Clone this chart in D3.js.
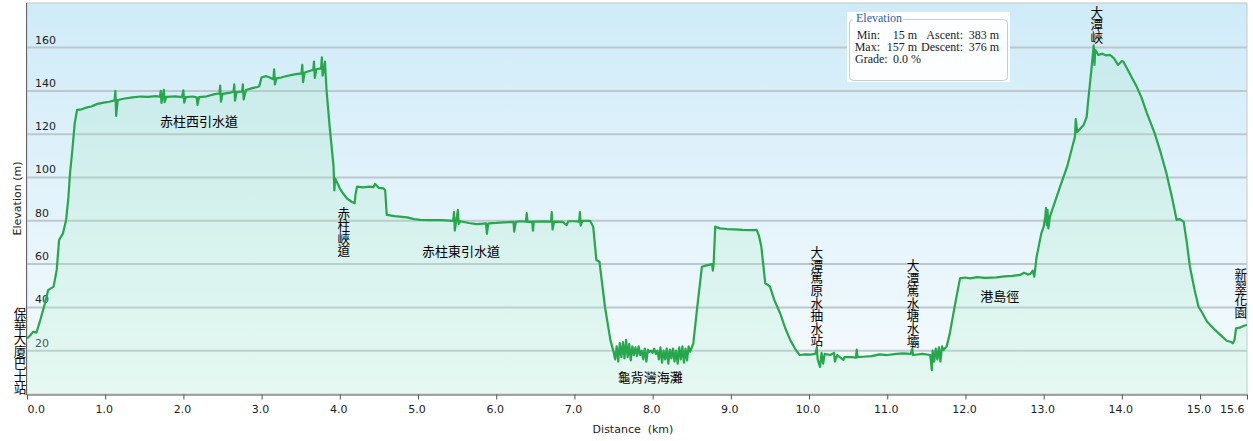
<!DOCTYPE html>
<html>
<head>
<meta charset="utf-8">
<script src="https://cdn.jsdelivr.net/npm/d3@7"></script>
<style>
  body { margin: 0; background: #fff; }
  svg text { font-family: "DejaVu Sans", Verdana, sans-serif; }
  .cjk { font-family: "Noto Sans CJK TC", "Noto Sans CJK SC", sans-serif; font-size: 13px; fill: #000; }
  .cjk-v { font-family: "Noto Sans CJK TC", "Noto Sans CJK SC", sans-serif; font-size: 12.6px; fill: #000; writing-mode: vertical-rl; }
  .stat { font-family: "Liberation Serif", "DejaVu Serif", serif; font-size: 12px; fill: #222; }
</style>
</head>
<body>
<script>
//-----------------Data (distance km, elevation m)----------------

const startClimb = [[0, 25.7], [0.04, 27], [0.08, 28.8], [0.12, 28.3], [0.17, 34.2], [0.23, 41.9], [0.27, 48], [0.34, 49.6], [0.38, 57.3], [0.41, 71.1], [0.46, 74.2], [0.5, 80.4], [0.53, 91.1], [0.55, 101.9], [0.58, 112.7], [0.61, 125], [0.64, 131.2]];

const westCatchwater = [[0.7, 131.5], [0.76, 132.3], [0.82, 132.8], [0.9, 134], [0.98, 134.6], [1.05, 135], [1.12, 135.6], [1.13, 140], [1.14, 128.5], [1.16, 135.8], [1.25, 136.5], [1.35, 137], [1.45, 137.4], [1.55, 137.2], [1.65, 137.6], [1.7, 137.3], [1.71, 140], [1.72, 134.5], [1.75, 140.5], [1.76, 134.8], [1.78, 137.2], [1.9, 137.5], [1.98, 137.1], [2.0, 140.3], [2.01, 134.6], [2.03, 137.1], [2.12, 137.4], [2.17, 137], [2.18, 133.5], [2.2, 137.1], [2.3, 137.5], [2.4, 138.5], [2.46, 138.8], [2.47, 142.5], [2.48, 135], [2.5, 138.6], [2.6, 139.2], [2.64, 139.6], [2.65, 143], [2.66, 135.5], [2.68, 139.5], [2.75, 139.7], [2.76, 143], [2.77, 136], [2.8, 140.4], [2.88, 141.3], [2.95, 141.8], [2.97, 142.2], [3.0, 146.3], [3.06, 146.8], [3.09, 146.4], [3.15, 145.4], [3.16, 150], [3.17, 143], [3.19, 145.8], [3.25, 146.2], [3.32, 146.9], [3.42, 147.6], [3.51, 148.1], [3.52, 152], [3.53, 144], [3.55, 148.5], [3.62, 149.3], [3.66, 149.7], [3.67, 153.5], [3.68, 146], [3.7, 150], [3.76, 150.4], [3.77, 155.5], [3.78, 147], [3.8, 150.2], [3.81, 153.5], [3.83, 140.4], [3.87, 123.5], [3.92, 105], [3.93, 94], [3.94, 99.6]];

const gapRoad = [[4.0, 95], [4.04, 92.7], [4.09, 90.4], [4.15, 88.8], [4.19, 88.1], [4.2, 92], [4.22, 95.8], [4.3, 95.4], [4.38, 95.8], [4.43, 95.5], [4.45, 97], [4.5, 95.2], [4.56, 95], [4.58, 94], [4.6, 82.7]];

const eastCatchwater = [[4.7, 82.2], [4.86, 81.6], [4.95, 80.8], [5.03, 80.4], [5.15, 80.3], [5.3, 80.3], [5.45, 80], [5.46, 84], [5.47, 75.5], [5.49, 80.2], [5.51, 85], [5.52, 78.5], [5.54, 79.8], [5.65, 79], [5.75, 78.5], [5.87, 78.8], [5.88, 74], [5.9, 78.8], [6.0, 79], [6.1, 79.3], [6.22, 79.5], [6.23, 75], [6.25, 79.5], [6.3, 79.8], [6.38, 79.6], [6.39, 83.5], [6.4, 79.5], [6.46, 79.6], [6.47, 75.5], [6.48, 79.6], [6.6, 79.7], [6.7, 79.6], [6.71, 84], [6.72, 76], [6.74, 79.6], [6.85, 79.5], [6.9, 78], [6.92, 79.8], [7.0, 79.8], [7.06, 79.6], [7.07, 84], [7.08, 77.8], [7.1, 80], [7.2, 80], [7.24, 77.3], [7.28, 61.9], [7.32, 61.1], [7.39, 40.3], [7.46, 24.9], [7.5, 19.5]];

const turtleCove = [[7.52, 16], [7.54, 22], [7.56, 15], [7.58, 23.5], [7.6, 17], [7.62, 24], [7.64, 16.5], [7.66, 25], [7.68, 17], [7.7, 23], [7.72, 15.5], [7.74, 22], [7.76, 18], [7.78, 21.5], [7.8, 17.5], [7.82, 22], [7.84, 18], [7.86, 20], [7.88, 16], [7.9, 21], [7.92, 15], [7.94, 20.5], [7.96, 19.5], [7.98, 20], [8.0, 19], [8.02, 21], [8.04, 18.5], [8.06, 20], [8.08, 16], [8.1, 21.5], [8.12, 14.5], [8.14, 20], [8.16, 16], [8.18, 21], [8.2, 14], [8.22, 20.5], [8.24, 16.5], [8.26, 21], [8.28, 15], [8.3, 20], [8.32, 14], [8.34, 21.5], [8.36, 16], [8.38, 22], [8.4, 14.5], [8.42, 21], [8.44, 15.5], [8.46, 22], [8.48, 19.5]];

const midHill = [[8.52, 23.4], [8.57, 40], [8.63, 58.8], [8.7, 59.5], [8.76, 60], [8.77, 57], [8.78, 60], [8.8, 77.3], [8.86, 76.5], [8.95, 76.2], [9.05, 76], [9.15, 75.8], [9.25, 75.7], [9.33, 75.8], [9.36, 73], [9.39, 68], [9.44, 51.1], [9.47, 50.5], [9.5, 49.6], [9.56, 43], [9.63, 37.3], [9.7, 30], [9.76, 24.9], [9.82, 21], [9.88, 18]];

const reservoirRoad = [[9.95, 18.3], [10.02, 18.2], [10.08, 18.6], [10.1, 21.5], [10.11, 16], [10.14, 12.5], [10.16, 19], [10.18, 14], [10.2, 18.5], [10.27, 18], [10.32, 19], [10.33, 15], [10.36, 18], [10.44, 15.7], [10.45, 17], [10.55, 17], [10.6, 16.8], [10.61, 20.5], [10.62, 17], [10.69, 17.2], [10.8, 17.5], [10.9, 18.3], [11.0, 18], [11.12, 18.5], [11.2, 18.8], [11.3, 18.5], [11.32, 21], [11.33, 18], [11.45, 18.5], [11.55, 18], [11.57, 11], [11.58, 20], [11.6, 15], [11.62, 21], [11.64, 16], [11.66, 21.5], [11.68, 15], [11.7, 22], [11.72, 20.3], [11.76, 22], [11.8, 28], [11.86, 40], [11.93, 53.4]];

const hkTrail = [[12.0, 53.8], [12.06, 53.4], [12.15, 54], [12.25, 53.6], [12.4, 53.9], [12.5, 54.3], [12.6, 54.6], [12.7, 55], [12.75, 56], [12.8, 55.2], [12.83, 55.5], [12.86, 57], [12.88, 54.2], [12.91, 63.4], [12.97, 74.2], [13.0, 77.3], [13.02, 81.9], [13.03, 86], [13.04, 78], [13.05, 85], [13.06, 76.5], [13.08, 81.9]];

const gapClimb = [[13.21, 95.8], [13.3, 105], [13.4, 118.8], [13.41, 127], [13.43, 121], [13.51, 124.2], [13.55, 128], [13.57, 135.8], [13.61, 149.7], [13.64, 161], [13.65, 152], [13.66, 159], [13.7, 156.6], [13.75, 157.2], [13.8, 156.4], [13.85, 156.6], [13.9, 155], [13.95, 152], [14.0, 153.8], [14.02, 153.5], [14.1, 148], [14.19, 141.9], [14.25, 137], [14.32, 129.7], [14.42, 120.4], [14.5, 111], [14.57, 101.9], [14.64, 91], [14.7, 80.4], [14.74, 80.8], [14.79, 79.6], [14.83, 70], [14.87, 58.8], [14.93, 48], [14.98, 40.3], [15.02, 38], [15.09, 33.4], [15.18, 30], [15.26, 27.3], [15.34, 24.6], [15.4, 24], [15.42, 23.4], [15.44, 25], [15.46, 30.3], [15.52, 30.8], [15.56, 31.5], [15.6, 31.9]];

const profile = [].concat(startClimb, westCatchwater, gapRoad, eastCatchwater, turtleCove, midHill, reservoirRoad, hkTrail, gapClimb);

const xTicks = [0, 1, 2, 3, 4, 5, 6, 7, 8, 9, 10, 11, 12, 13, 14, 15, 15.6];
const yTicks = [20, 40, 60, 80, 100, 120, 140, 160];

// place names: [text, km, m, vertical?]
const placeNames = [
  ["保華大廈巴士站", -0.09, -0.4, true],
  ["赤柱西引水道", 2.2, 123.3, false],
  ["赤柱峽道", 4.05, 63.3, true],
  ["赤柱東引水道", 5.55, 63.4, false],
  ["龜背灣海灘", 7.97, 4.9, false],
  ["大潭篤原水抽水站", 10.1, 21.7, true],
  ["大潭篤水塘水壩", 11.33, 21.7, true],
  ["港島徑", 12.44, 42.6, false],
  ["大潭峽", 13.68, 162, true],
  ["新翠花園", 15.52, 35, true]
];

const statRows = [
  ["Min:", "15 m", "Ascent:", "383 m"],
  ["Max:", "157 m", "Descent:", "376 m"],
  ["Grade:", "0.0 %", "", ""]
];

//-----------------Main svg----------------

const width = 1253;
const height = 441;
const plotL = 27, plotR = 1247, plotT = 3, plotB = 394;

const svg = d3.select("body").append("svg").attr("width", width).attr("height", height);

const xScale = d3.scaleLinear().domain([0, 15.6]).range([plotL, plotR]);
const yScale = d3.scaleLinear().domain([0, 180.6]).range([plotB, plotT]);

const defs = svg.append("defs");
const bg = defs.append("linearGradient").attr("id", "bg").attr("x1", 0).attr("y1", 0).attr("x2", 0).attr("y2", 1);
bg.append("stop").attr("offset", "0%").attr("stop-color", "#cfebf8");
bg.append("stop").attr("offset", "100%").attr("stop-color", "#f6fbfe");
const fillGrad = defs.append("linearGradient").attr("id", "fillGrad").attr("x1", 0).attr("y1", 0).attr("x2", 0).attr("y2", 1);
fillGrad.append("stop").attr("offset", "0%").attr("stop-color", "#8fe0b0").attr("stop-opacity", 0.18);
fillGrad.append("stop").attr("offset", "100%").attr("stop-color", "#b6f0cc").attr("stop-opacity", 0.26);
defs.append("clipPath").attr("id", "plotClip").append("rect")
  .attr("x", plotL).attr("y", plotT).attr("width", plotR - plotL).attr("height", plotB - plotT);

svg.append("rect").attr("x", plotL).attr("y", plotT).attr("width", plotR - plotL).attr("height", plotB - plotT)
  .attr("fill", "url(#bg)").attr("stroke", "#c4c8ca").attr("stroke-width", 1);

//-----------------Grid----------------

svg.append("g").selectAll("line").data(yTicks).enter().append("line")
  .attr("x1", plotL).attr("x2", plotR)
  .attr("y1", (d) => yScale(d)).attr("y2", (d) => yScale(d))
  .attr("stroke", "#bcc8cd").attr("stroke-width", 2);

svg.append("g").selectAll("text").data(yTicks).enter().append("text")
  .attr("x", plotL + 8).attr("y", (d) => yScale(d) - 4)
  .style("font-size", "11px").attr("fill", "#222")
  .text((d) => d);

//-----------------Profile----------------

const plot = svg.append("g").attr("clip-path", "url(#plotClip)");

plot.append("path").datum(profile)
  .attr("d", d3.area().x((d) => xScale(d[0])).y0(plotB).y1((d) => yScale(d[1])))
  .attr("fill", "url(#fillGrad)");

plot.append("path").datum(profile)
  .attr("d", d3.line().x((d) => xScale(d[0])).y((d) => yScale(d[1])))
  .attr("fill", "none").attr("stroke", "#26a74c").attr("stroke-width", 2.2).attr("stroke-linejoin", "round");

//-----------------Axis----------------

const xAxis = d3.axisBottom(xScale).tickValues(xTicks).tickFormat(d3.format(".1f")).tickSize(5).tickSizeOuter(0);
const xg = svg.append("g").attr("transform", "translate(0," + (plotB + 0.5) + ")").call(xAxis);
xg.select(".domain").attr("stroke", "#555");
xg.selectAll(".tick line").attr("stroke", "#555");
xg.selectAll(".tick text")
  .style("font-size", "11px").style("font-family", "'DejaVu Sans', Verdana, sans-serif")
  .attr("fill", "#222").attr("dy", "0.95em")
  .attr("text-anchor", (d) => (d === 0 ? "start" : d === 15.6 ? "end" : "middle"))
  .attr("dx", (d) => (d === 0 ? 0 : d === 15.6 ? -3 : -1.5));

svg.append("line").attr("x1", plotL - 0.5).attr("x2", plotL - 0.5).attr("y1", plotT).attr("y2", plotB + 1)
  .attr("stroke", "#666").attr("stroke-width", 1);

svg.append("text").attr("x", (plotL + plotR) / 2 - 4).attr("y", 433)
  .style("font-size", "11px").attr("fill", "#222").attr("text-anchor", "middle")
  .attr("xml:space", "preserve").text("Distance  (km)");

svg.append("text").attr("transform", "translate(21," + (plotT + plotB) / 2 + ") rotate(-90)")
  .style("font-size", "11px").attr("fill", "#222").attr("text-anchor", "middle")
  .text("Elevation (m)");

//-----------------Place names----------------

const names = svg.append("g");
placeNames.forEach(([txt, km, m, vertical]) => {
  const px = xScale(km);
  const py = yScale(m);
  if (vertical) {
    names.append("text").attr("class", "cjk-v").attr("text-anchor", "end")
      .attr("x", px).attr("y", py).text(txt);
  } else {
    names.append("text").attr("class", "cjk").attr("text-anchor", "middle")
      .attr("x", px).attr("y", py - 1).text(txt);
  }
});

//-----------------Stats box----------------

const box = svg.append("g");
box.append("rect").attr("x", 847).attr("y", 12).attr("width", 163).attr("height", 70).attr("fill", "#fff").attr("opacity", 0.95);
box.append("rect").attr("x", 849.5).attr("y", 19.5).attr("width", 158).attr("height", 61).attr("rx", 4)
  .attr("fill", "none").attr("stroke", "#c6ccd0");
box.append("rect").attr("x", 853).attr("y", 14).attr("width", 50).attr("height", 10).attr("fill", "#fff");
box.append("text").attr("class", "stat").attr("x", 856).attr("y", 22).style("fill", "#2a5db0").text("Elevation");

const cols = [880, 917, 963, 999];
statRows.forEach((row, r) => {
  const yy = 39 + r * 12;
  if (row[0] === "Grade:") {
    box.append("text").attr("class", "stat").attr("x", 855).attr("y", yy).text(row[0]);
    box.append("text").attr("class", "stat").attr("x", 893).attr("y", yy).text(row[1]);
    return;
  }
  row.forEach((t, c) => {
    box.append("text").attr("class", "stat").attr("x", cols[c]).attr("y", yy).attr("text-anchor", "end").text(t);
  });
});
</script>
</body>
</html>
